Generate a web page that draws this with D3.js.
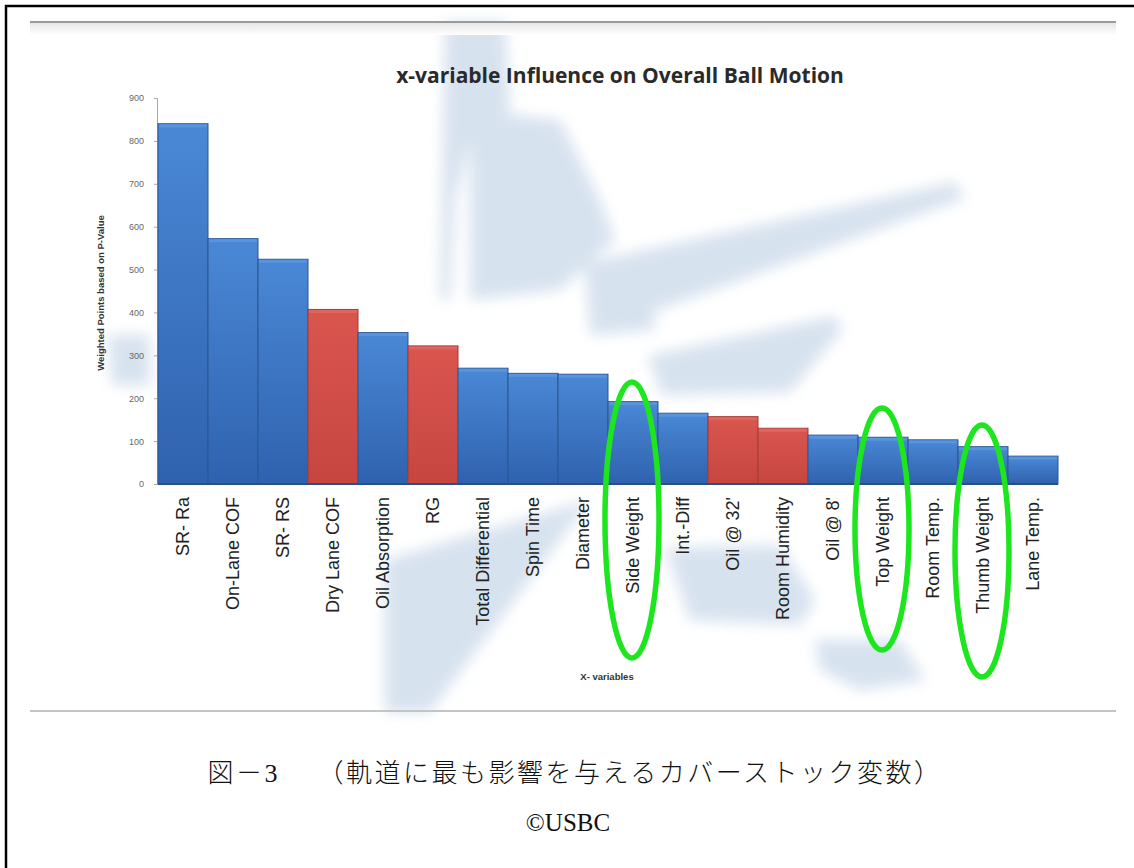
<!DOCTYPE html>
<html>
<head>
<meta charset="utf-8">
<script src="https://cdn.jsdelivr.net/npm/d3@7"></script>
<style>
  html, body { margin: 0; padding: 0; background: #fff; }
  svg { display: block; }
</style>
</head>
<body>
<div id="chart"></div>
<script>
// ---------- data ----------
const categories = ["SR- Ra", "On-Lane COF", "SR- RS", "Dry Lane COF", "Oil Absorption", "RG",
  "Total Differential", "Spin Time", "Diameter", "Side Weight", "Int.-Diff", "Oil @ 32'",
  "Room Humidity", "Oil @ 8'", "Top Weight", "Room Temp.", "Thumb Weight", "Lane Temp."];
const values = [840, 572, 524, 407, 353, 322, 270, 258, 256, 192, 165, 157, 130, 114, 109, 103, 87, 65];
const groups = ["cover", "cover", "cover", "lane", "cover", "lane", "cover", "cover", "cover", "cover",
  "cover", "lane", "lane", "cover", "cover", "cover", "cover", "cover"];
const yTicks = [0, 100, 200, 300, 400, 500, 600, 700, 800, 900];
const highlighted = ["Side Weight", "Top Weight", "Thumb Weight"];
const titleText = "x-variable Influence on Overall Ball Motion";
const yAxisTitle = "Weighted Points based on P-Value";
const xAxisTitle = "X- variables";
const captionText = "図－3　 （軌道に最も影響を与えるカバーストック変数）";
const creditText = "©USBC";

// ---------- layout ----------
const W = 1134, H = 868;
const plot = { left: 158, right: 1058, top: 98, bottom: 484 };
// ellipse vertical extents (annotation, pixels) for highlighted labels
const ellipseTop = [382, 408, 425];
const ellipseBottom = [658, 650, 677];

const svg = d3.select("#chart").append("svg").attr("width", W).attr("height", H);
const defs = svg.append("defs");

const gb = defs.append("linearGradient").attr("id", "gBlue").attr("x1", 0).attr("y1", 0).attr("x2", 0).attr("y2", 1);
gb.append("stop").attr("offset", "0%").attr("stop-color", "#4a88d6");
gb.append("stop").attr("offset", "100%").attr("stop-color", "#2f62ae");
const gr = defs.append("linearGradient").attr("id", "gRed").attr("x1", 0).attr("y1", 0).attr("x2", 0).attr("y2", 1);
gr.append("stop").attr("offset", "0%").attr("stop-color", "#d9564f");
gr.append("stop").attr("offset", "100%").attr("stop-color", "#c6463f");
const blur = defs.append("filter").attr("id", "blur").attr("x", "-20%").attr("y", "-20%").attr("width", "140%").attr("height", "140%");
blur.append("feGaussianBlur").attr("stdDeviation", 7);
const gline = defs.append("linearGradient").attr("id", "gLine").attr("x1", 0).attr("y1", 0).attr("x2", 0).attr("y2", 1);
gline.append("stop").attr("offset", "0%").attr("stop-color", "#e6e6e6");
gline.append("stop").attr("offset", "100%").attr("stop-color", "#ffffff");

// background watermark (decorative, faint)
const wm = svg.append("g").attr("filter", "url(#blur)").attr("fill", "#cddbeb").attr("opacity", 0.8);
const wmShapes = [
  [[445, 22], [505, 22], [510, 110], [470, 140], [455, 200], [450, 300], [440, 300]],
  [[470, 110], [560, 120], [600, 200], [615, 240], [560, 290], [470, 300]],
  [[590, 262], [955, 182], [965, 198], [625, 322], [595, 315]],
  [[648, 356], [835, 316], [842, 330], [790, 392], [662, 395]],
  [[585, 265], [650, 262], [655, 330], [590, 335]],
  [[385, 560], [590, 500], [430, 712], [385, 712]],
  [[665, 548], [780, 545], [815, 600], [800, 625], [690, 620]],
  [[815, 640], [900, 640], [925, 680], [860, 690], [820, 670]],
  [[108, 335], [150, 335], [150, 385], [112, 385]]
];
wm.selectAll("path").data(wmShapes).join("path")
  .attr("d", d => d3.line()(d) + "Z");

// frame lines (screenshot edges)
svg.append("rect").attr("x", 30).attr("y", 23).attr("width", 1086).attr("height", 12).attr("fill", "url(#gLine)");
svg.append("line").attr("x1", 30).attr("x2", 1116).attr("y1", 22).attr("y2", 22)
  .attr("stroke", "#9a9a9a").attr("stroke-width", 2);
svg.append("line").attr("x1", 30).attr("x2", 1116).attr("y1", 711).attr("y2", 711)
  .attr("stroke", "#c4c4c4").attr("stroke-width", 2);
svg.append("path").attr("d", `M6,${H + 5} L6,6 L${W + 5},6`)
  .attr("fill", "none").attr("stroke", "#000").attr("stroke-width", 2.5);

// scales
const x = d3.scaleBand().domain(categories).range([plot.left, plot.right]).padding(0);
const y = d3.scaleLinear().domain([0, 900]).range([plot.bottom, plot.top]);

// title
svg.append("text").attr("x", 620).attr("y", 83).attr("text-anchor", "middle")
  .attr("font-family", "'Open Sans', 'Liberation Sans', sans-serif").attr("font-weight", 700)
  .attr("font-size", 21).attr("fill", "#2a2a2a").text(titleText);

// y axis
const yAxis = d3.axisLeft(y).tickValues(yTicks).tickSize(3).tickPadding(10);
const gy = svg.append("g").attr("transform", `translate(${plot.left - 1},0)`).call(yAxis);
gy.select(".domain").attr("stroke", "#a8a8a8");
gy.selectAll(".tick line").attr("stroke", "#a8a8a8");
gy.selectAll(".tick text").attr("font-family", "'Liberation Sans', Arial, sans-serif")
  .attr("font-size", 9).attr("fill", "#666");

svg.append("text").attr("transform", `translate(104,293) rotate(-90)`).attr("text-anchor", "middle")
  .attr("font-family", "'Liberation Sans', Arial, sans-serif").attr("font-weight", 700)
  .attr("font-size", 9.5).attr("fill", "#333").text(yAxisTitle);

// bars
svg.append("g").selectAll("rect").data(categories).join("rect")
  .attr("x", d => x(d))
  .attr("y", (d, i) => y(values[i]))
  .attr("width", x.bandwidth())
  .attr("height", (d, i) => y(0) - y(values[i]))
  .attr("fill", (d, i) => groups[i] === "lane" ? "url(#gRed)" : "url(#gBlue)")
  .attr("stroke", (d, i) => groups[i] === "lane" ? "#a83a35" : "#2a5796")
  .attr("stroke-width", 1);
// top highlight strip
svg.append("g").selectAll("rect").data(categories).join("rect")
  .attr("x", d => x(d) + 1)
  .attr("y", (d, i) => y(values[i]) + 0.5)
  .attr("width", x.bandwidth() - 2)
  .attr("height", 3)
  .attr("fill", (d, i) => groups[i] === "lane" ? "#e06a63" : "#5c98e0")
  .attr("opacity", 0.8);

// baseline
svg.append("line").attr("x1", plot.left).attr("x2", plot.right).attr("y1", y(0)).attr("y2", y(0))
  .attr("stroke", "#2a4f86").attr("stroke-width", 2);

// x labels
svg.append("g").selectAll("text").data(categories).join("text")
  .attr("transform", d => `translate(${x(d) + x.bandwidth() / 2},497) rotate(-90)`)
  .attr("text-anchor", "end").attr("dy", "0.35em")
  .attr("font-family", "'Liberation Sans', Arial, sans-serif").attr("font-size", 18)
  .attr("fill", "#222").text(d => d);

svg.append("text").attr("x", 607).attr("y", 680).attr("text-anchor", "middle")
  .attr("font-family", "'Liberation Sans', Arial, sans-serif").attr("font-weight", 700)
  .attr("font-size", 9.5).attr("fill", "#333").text(xAxisTitle);

// green ellipses
svg.append("g").selectAll("ellipse").data(highlighted).join("ellipse")
  .attr("cx", d => x(d) + x.bandwidth() / 2 - 1)
  .attr("cy", (d, i) => (ellipseTop[i] + ellipseBottom[i]) / 2)
  .attr("rx", 27)
  .attr("ry", (d, i) => (ellipseBottom[i] - ellipseTop[i]) / 2)
  .attr("fill", "none").attr("stroke", "#1ee61e").attr("stroke-width", 5.5);

// caption
svg.append("text").attr("x", 575).attr("y", 782).attr("text-anchor", "middle")
  .attr("font-family", "'Liberation Serif', 'Noto Sans CJK JP', serif").attr("font-size", 26)
  .attr("font-weight", 300).attr("letter-spacing", 2.5)
  .attr("fill", "#111").text(captionText);
svg.append("text").attr("x", 568).attr("y", 831).attr("text-anchor", "middle")
  .attr("font-family", "'Liberation Serif', 'Noto Sans CJK JP', serif").attr("font-size", 25)
  .attr("fill", "#111").text(creditText);
</script>
</body>
</html>
